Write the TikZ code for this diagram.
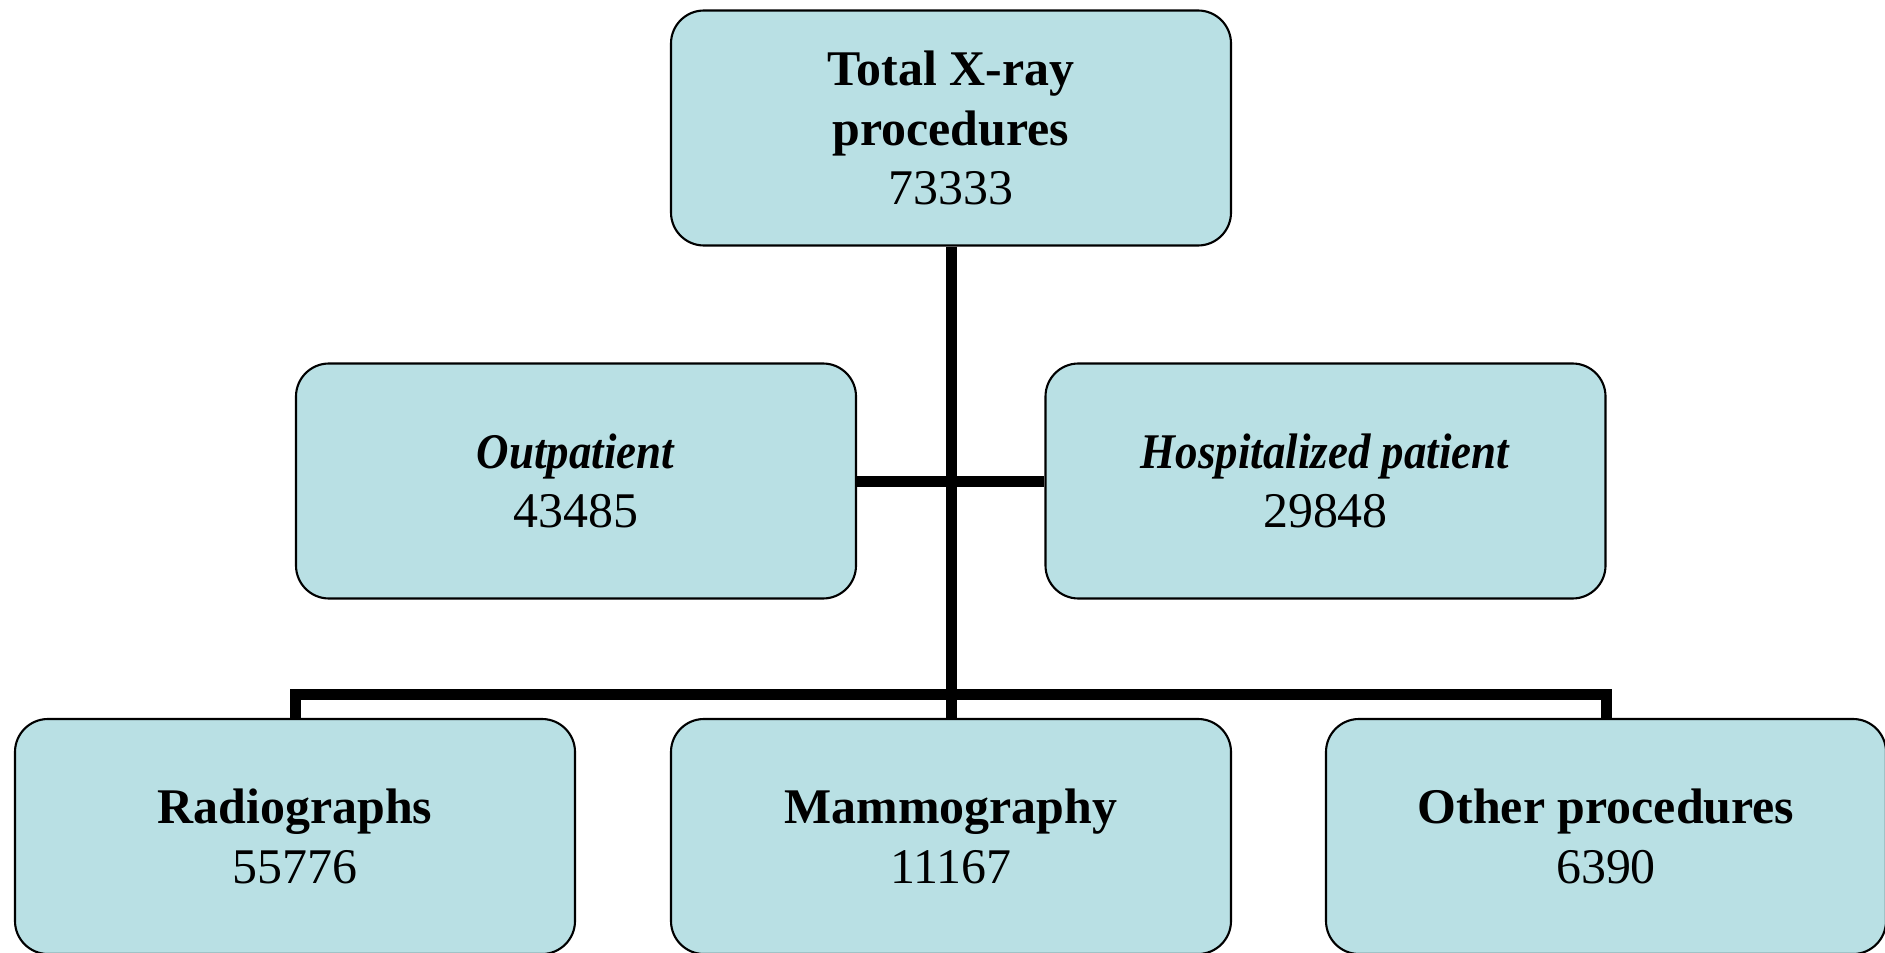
\documentclass[tikz,border=0pt]{standalone}
\usepackage{fontspec}
\usepackage{graphicx}
\setmainfont{Liberation Serif}
\usetikzlibrary{calc}
\definecolor{boxfill}{RGB}{185,224,228}
\newcommand{\narrowit}[1]{\scalebox{0.9}[1]{\textbf{\textit{#1}}}}

\begin{document}
\begin{tikzpicture}[box/.style={draw, line width=0.6pt, fill=boxfill, rounded corners=3.3mm,
    minimum width=5.6cm, minimum height=2.35cm, align=center,
    font=\fontsize{14.2pt}{17pt}\selectfont},
  link/.style={line width=1.1mm}]
  \useasboundingbox (0,0) rectangle (18.85,9.52);
  % Define nodes
  \node[box] (total) at (9.51,8.24) {\textbf{Total X-ray}\\\textbf{procedures}\\73333};
  \node[box] (out) at (5.76,4.71) {\narrowit{Outpatient}\\43485};
  \node[box] (hosp) at (13.255,4.71) {\narrowit{Hospitalized patient}\\29848};
  \node[box] (rad) at (2.95,1.155) {\textbf{Radiographs}\\55776};
  \node[box] (mammo) at (9.51,1.155) {\textbf{Mammography}\\11167};
  \node[box] (other) at (16.06,1.155) {\textbf{Other procedures}\\6390};
  \coordinate (bus) at (9.51,2.58);

  % Draw connectors
  \draw[link] (total) -- (mammo);
  \draw[link] (out) -- (hosp);
  \draw[link] (rad) |- (bus) -| (other);
\end{tikzpicture}
\end{document}
